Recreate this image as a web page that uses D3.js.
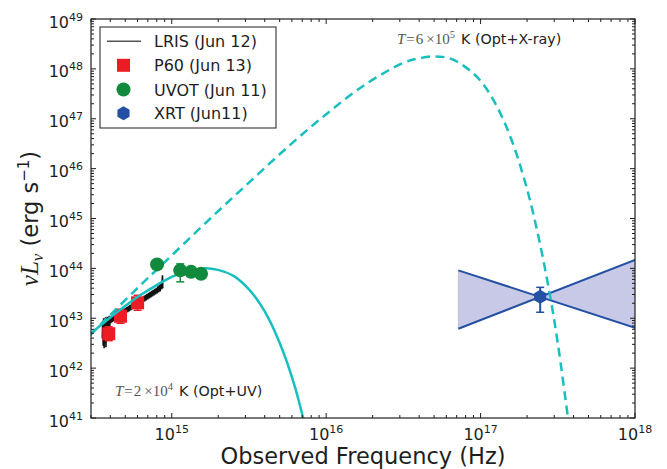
<!DOCTYPE html>
<html><head><meta charset="utf-8">
<script src="https://cdn.jsdelivr.net/npm/d3@7"></script>
<style>body{margin:0;background:#fff}svg{display:block}</style>
</head><body><svg id="c" width="667" height="469"></svg>
<script>
// ---------- data (log10 values) ----------
const xTickExps = [15, 16, 17, 18];
const yTickExps = [41, 42, 43, 44, 45, 46, 47, 48, 49];

// Blackbody T=2e4 K (solid), [log nu, log nuLnu]
const bbCool = [[14.47,42.68],[14.6,43.01],[14.7,43.25],[14.8,43.47],[14.9,43.66],[15.0,43.83],[15.1,43.94],[15.2,44.0],[15.3,43.97],[15.4,43.85],[15.5,43.58],[15.6,43.15],[15.7,42.5],[15.8,41.6],[15.9,40.35]];
// Blackbody T=6e5 K (dashed)
const bbHot = [[14.47,42.66],[14.75,43.52],[15.0,44.26],[15.25,45.0],[15.5,45.72],[15.75,46.43],[16.0,47.09],[16.25,47.68],[16.5,48.12],[16.6,48.21],[16.7,48.25],[16.8,48.21],[16.9,48.04],[17.0,47.76],[17.1,47.28],[17.2,46.58],[17.3,45.6],[17.38,44.56],[17.45,43.45],[17.5,42.5],[17.566,41.0],[17.6,40.2]];

// LRIS spectrum
const lrisNu = [14.550,14.553,14.556,14.559,14.562,14.565,14.568,14.571,14.574,14.577,14.580,14.583,14.586,14.589,14.592,14.595,14.598,14.601,14.605,14.610,14.615,14.620,14.625,14.630,14.635,14.640,14.645,14.650,14.655,14.660,14.665,14.670,14.675,14.680,14.685,14.690,14.695,14.700,14.705,14.710,14.715,14.720,14.725,14.730,14.735,14.740,14.745,14.750,14.755,14.760,14.765,14.770,14.775,14.780,14.785,14.790,14.795,14.800,14.805,14.810,14.815,14.820,14.825,14.830,14.835,14.840,14.845,14.850,14.855,14.860,14.865,14.870,14.875,14.880,14.885,14.890,14.895,14.900,14.905,14.910,14.915,14.920,14.925,14.930,14.935,14.940,14.942];
const lrisL = [42.60,42.95,42.45,43.00,42.40,42.98,42.50,43.02,42.42,42.96,42.55,43.03,42.60,43.00,42.70,43.05,42.80,43.04,42.90,43.03,42.92,43.05,42.94,43.07,42.96,43.09,42.98,43.11,43.00,43.13,43.02,43.15,43.04,43.17,43.06,43.19,43.08,43.21,43.10,43.23,43.12,43.25,43.14,43.27,43.16,43.29,43.18,43.31,43.20,43.33,43.22,43.35,43.24,43.37,43.26,43.39,43.28,43.41,43.30,43.43,43.32,43.45,43.34,43.47,43.36,43.49,43.38,43.51,43.40,43.53,43.42,43.55,43.44,43.57,43.46,43.59,43.48,43.61,43.50,43.64,43.52,43.67,43.54,43.72,43.58,43.86,43.60];

// P60 photometry
const p60Nu = [14.592, 14.668, 14.779];
const p60L = [42.69, 43.04, 43.31];
const p60Err = [0.14, 0.14, 0.15];

// UVOT photometry
const uvotNu = [14.905, 15.055, 15.125, 15.19];
const uvotL = [44.08, 43.96, 43.93, 43.89];
const uvotErrLo = [0.0, 0.23, 0.0, 0.0];
const uvotErrHi = [0.0, 0.13, 0.0, 0.0];

// XRT
const xrtNu = [17.386];
const xrtL = [43.43];
const xrtErrLo = [0.31];
const xrtErrHi = [0.19];
const bowNu = [16.856, 18.0];
const bowLineA = [43.96, 42.81];
const bowLineB = [42.79, 44.17];

const legendLabels = ["LRIS (Jun 12)", "P60 (Jun 13)", "UVOT (Jun 11)", "XRT (Jun11)"];

// ---------- colours ----------
const cyan = "#19bfc0", red = "#ec1c24", green = "#118a3d", blue = "#2450a4", fillBlue = "#c7c9e6", ink = "#1e1e1e";

const svg = d3.select("#c");
const L = 91, R = 635, T = 19, B = 418;
const x = d3.scaleLog().domain([3e14, 1e18]).range([L, R]);
const y = d3.scaleLog().domain([1e41, 1e49]).range([B, T]);
const P = v => Math.pow(10, v);
const px = v => x(P(v)), py = v => y(P(v));

svg.append("defs").append("clipPath").attr("id", "clip")
  .append("rect").attr("x", L).attr("y", T).attr("width", R - L).attr("height", B - T);
const plot = svg.append("g").attr("clip-path", "url(#clip)");

// bowtie
const bowPts = [[bowNu[0], bowLineA[0]], [bowNu[1], bowLineA[1]], [bowNu[1], bowLineB[1]], [bowNu[0], bowLineB[0]]];
plot.append("path").attr("d", d3.line().x(d => px(d[0])).y(d => py(d[1]))(bowPts) + "Z")
  .attr("fill", fillBlue).attr("stroke", "none");
plot.append("line").attr("x1", px(bowNu[0])).attr("x2", px(bowNu[0])).attr("y1", py(bowLineA[0])).attr("y2", py(bowLineB[0]))
  .attr("stroke", "#c4c4cc").attr("stroke-width", 1);
[bowLineA, bowLineB].forEach(ln => {
  plot.append("line").attr("x1", px(bowNu[0])).attr("y1", py(ln[0])).attr("x2", px(bowNu[1])).attr("y2", py(ln[1]))
    .attr("stroke", blue).attr("stroke-width", 2);
});

// spectrum
plot.append("path").datum(lrisNu.map((n, i) => [n, lrisL[i]]))
  .attr("d", d3.line().x(d => px(d[0])).y(d => py(d[1])))
  .attr("fill", "none").attr("stroke", "#111").attr("stroke-width", 1.6);

// P60
const p60 = plot.append("g");
p60Nu.forEach((n, i) => {
  const cx = px(n), cy = py(p60L[i]);
  const y0 = py(p60L[i] - p60Err[i]), y1 = py(p60L[i] + p60Err[i]);
  p60.append("line").attr("x1", cx).attr("x2", cx).attr("y1", y0).attr("y2", y1).attr("stroke", red).attr("stroke-width", 1.5);
  [y0, y1].forEach(yy => p60.append("line").attr("x1", cx - 4).attr("x2", cx + 4).attr("y1", yy).attr("y2", yy).attr("stroke", red).attr("stroke-width", 1.5));
  p60.append("rect").attr("x", cx - 6.5).attr("y", cy - 6.5).attr("width", 13).attr("height", 13).attr("fill", red);
});

// curves
const curveLine = d3.line().x(d => px(d[0])).y(d => py(d[1])).curve(d3.curveCatmullRom.alpha(0.5));
plot.append("path").attr("d", curveLine(bbCool)).attr("fill", "none").attr("stroke", cyan).attr("stroke-width", 2.5);
plot.append("path").attr("d", curveLine(bbHot)).attr("fill", "none").attr("stroke", cyan).attr("stroke-width", 2.5)
  .attr("stroke-dasharray", "9,5.5");

// UVOT
const uv = plot.append("g");
uvotNu.forEach((n, i) => {
  const cx = px(n), cy = py(uvotL[i]);
  if (uvotErrLo[i] > 0 || uvotErrHi[i] > 0) {
    const y0 = py(uvotL[i] - uvotErrLo[i]), y1 = py(uvotL[i] + uvotErrHi[i]);
    uv.append("line").attr("x1", cx).attr("x2", cx).attr("y1", y0).attr("y2", y1).attr("stroke", green).attr("stroke-width", 1.5);
    [y0, y1].forEach(yy => uv.append("line").attr("x1", cx - 4).attr("x2", cx + 4).attr("y1", yy).attr("y2", yy).attr("stroke", green).attr("stroke-width", 1.5));
  }
  uv.append("circle").attr("cx", cx).attr("cy", cy).attr("r", 7).attr("fill", green);
});

// XRT point
const hex = (cx, cy, r) => d3.range(6).map(k => { const a = Math.PI / 6 + k * Math.PI / 3; return [cx + r * Math.cos(a), cy + r * Math.sin(a)]; });
xrtNu.forEach((n, i) => {
  const cx = px(n), cy = py(xrtL[i]);
  const y0 = py(xrtL[i] - xrtErrLo[i]), y1 = py(xrtL[i] + xrtErrHi[i]);
  plot.append("line").attr("x1", cx).attr("x2", cx).attr("y1", y0).attr("y2", y1).attr("stroke", blue).attr("stroke-width", 2);
  [y0, y1].forEach(yy => plot.append("line").attr("x1", cx - 4).attr("x2", cx + 4).attr("y1", yy).attr("y2", yy).attr("stroke", blue).attr("stroke-width", 1.5));
  plot.append("polygon").attr("points", hex(cx, cy, 7).map(p => p.join(",")).join(" ")).attr("fill", blue);
});

// ---------- axes / frame ----------
const fr = svg.append("g").attr("stroke", ink).attr("fill", "none");
fr.append("rect").attr("x", L).attr("y", T).attr("width", R - L).attr("height", B - T).attr("stroke-width", 1.2);
const minorX = [], minorY = [];
for (let e = 14; e <= 17; e++) for (let m = 2; m <= 9; m++) { const v = m * P(e); if (v >= 3e14 && v <= 1e18) minorX.push(v); }
for (let e = 41; e <= 48; e++) for (let m = 2; m <= 9; m++) minorY.push(m * P(e));
const tickG = svg.append("g").attr("stroke", ink).attr("stroke-width", 1);
xTickExps.forEach(e => { const xx = x(P(e)); tickG.append("line").attr("x1", xx).attr("x2", xx).attr("y1", B).attr("y2", B - 5); tickG.append("line").attr("x1", xx).attr("x2", xx).attr("y1", T).attr("y2", T + 5); });
minorX.forEach(v => { const xx = x(v); tickG.append("line").attr("x1", xx).attr("x2", xx).attr("y1", B).attr("y2", B - 3); tickG.append("line").attr("x1", xx).attr("x2", xx).attr("y1", T).attr("y2", T + 3); });
yTickExps.forEach(e => { const yy = y(P(e)); tickG.append("line").attr("x1", L).attr("x2", L + 5).attr("y1", yy).attr("y2", yy); tickG.append("line").attr("x1", R).attr("x2", R - 5).attr("y1", yy).attr("y2", yy); });
minorY.forEach(v => { const yy = y(v); tickG.append("line").attr("x1", L).attr("x2", L + 3).attr("y1", yy).attr("y2", yy); tickG.append("line").attr("x1", R).attr("x2", R - 3).attr("y1", yy).attr("y2", yy); });

const sans = "'DejaVu Sans', sans-serif";
function powLabel(g, xx, yy, e, anchor) {
  const t = g.append("text").attr("x", xx).attr("y", yy).attr("text-anchor", anchor)
    .attr("font-family", sans).attr("font-size", 16).attr("fill", ink);
  t.append("tspan").text("10");
  t.append("tspan").attr("dy", -7).attr("font-size", 11).text(e);
}
const lab = svg.append("g");
xTickExps.forEach(e => powLabel(lab, x(P(e)), 440, e, "middle"));
yTickExps.forEach(e => powLabel(lab, 83, y(P(e)) + 8.5, e, "end"));

// axis titles
svg.append("text").attr("x", (L + R) / 2).attr("y", 464).attr("text-anchor", "middle")
  .attr("font-family", sans).attr("font-size", 22.5).attr("fill", ink).text("Observed Frequency (Hz)");
const yl = svg.append("text").attr("transform", "translate(38," + ((T + B) / 2) + ") rotate(-90)")
  .attr("text-anchor", "middle").attr("font-size", 22.5).attr("fill", ink).attr("font-family", sans);
yl.append("tspan").attr("font-family", "'Liberation Serif', serif").attr("font-style", "italic").attr("font-size", 25).text("νL");
yl.append("tspan").attr("font-family", "'Liberation Serif', serif").attr("font-style", "italic").attr("font-size", 17).attr("dy", 5).text("ν");
yl.append("tspan").attr("dy", -5).text(" (erg s");
yl.append("tspan").attr("font-size", 15).attr("dy", -9).text("−1");
yl.append("tspan").attr("dy", 9).text(")");

// annotations
function tempLabel(xx, yy, mant, ex, rest) {
  const t = svg.append("text").attr("x", xx).attr("y", yy).attr("font-size", 15).attr("fill", "#333");
  const serif = "'Liberation Serif', serif";
  t.append("tspan").attr("font-family", serif).attr("font-style", "italic").attr("fill", "#555").text("T");
  t.append("tspan").attr("font-family", serif).attr("fill", "#555").attr("dx", 1).text("=");
  t.append("tspan").attr("font-family", serif).attr("fill", "#555").attr("dx", 1).text(mant);
  t.append("tspan").attr("font-family", serif).attr("fill", "#555").attr("dx", 3).text("×10");
  t.append("tspan").attr("font-family", serif).attr("fill", "#555").attr("font-size", 10.5).attr("dy", -6).text(ex);
  t.append("tspan").attr("font-family", sans).attr("font-size", 14.3).attr("fill", "#222").attr("dy", 6).attr("dx", 6).text("K " + rest);
}
tempLabel(397, 44, "6", "5", "(Opt+X-ray)");
tempLabel(115, 396, "2", "4", "(Opt+UV)");

// legend
const lg = svg.append("g");
lg.append("rect").attr("x", 100).attr("y", 27).attr("width", 176).attr("height", 101).attr("fill", "#fff").attr("stroke", ink).attr("stroke-width", 1);
const rowY = [41.3, 65.3, 89.5, 113.3];
lg.append("line").attr("x1", 107).attr("x2", 141).attr("y1", rowY[0]).attr("y2", rowY[0]).attr("stroke", "#555").attr("stroke-width", 1.5);
lg.append("rect").attr("x", 123.5 - 6.5).attr("y", rowY[1] - 6.5).attr("width", 13).attr("height", 13).attr("fill", red);
lg.append("circle").attr("cx", 123.5).attr("cy", rowY[2]).attr("r", 7).attr("fill", green);
lg.append("polygon").attr("points", hex(123.5, rowY[3], 7).map(p => p.join(",")).join(" ")).attr("fill", blue);
legendLabels.forEach((s, i) => lg.append("text").attr("x", 154).attr("y", rowY[i] + 6).attr("font-family", sans).attr("font-size", 16).attr("fill", ink).text(s));
</script></body></html>
